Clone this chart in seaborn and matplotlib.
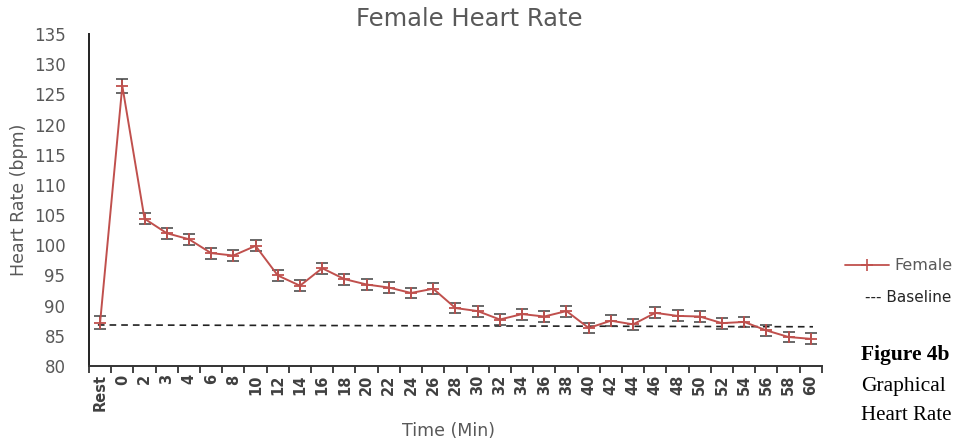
import numpy as np
import pandas as pd
import matplotlib
matplotlib.use("Agg")
import matplotlib.pyplot as plt
import seaborn as sns
from matplotlib.lines import Line2D

# ---- data ----
time_labels = ["Rest", "0", "2", "3", "4", "6", "8", "10", "12", "14", "16", "18",
               "20", "22", "24", "26", "28", "30", "32", "34", "36", "38", "40",
               "42", "44", "46", "48", "50", "52", "54", "56", "58", "60"]
heart_rate = [87.2, 126.4, 104.4, 102.0, 101.0, 98.7, 98.3, 99.9, 95.0, 93.3, 96.2,
              94.4, 93.5, 93.0, 92.1, 92.8, 89.6, 89.1, 87.7, 88.6, 88.2, 89.1,
              86.3, 87.5, 86.9, 88.8, 88.3, 88.2, 87.1, 87.3, 85.9, 84.8, 84.5]
heart_rate_err = [1.1, 1.1, 0.9, 0.9, 0.9, 0.9, 0.9, 0.9, 0.9, 0.9, 0.9,
                  0.9, 0.9, 0.9, 0.9, 0.9, 0.9, 0.9, 0.9, 0.9, 0.9, 0.9,
                  0.9, 0.9, 0.9, 0.9, 0.9, 0.9, 0.9, 0.9, 0.9, 0.9, 0.9]
baseline_ends = [86.8, 86.5]
y_ticks = [80, 85, 90, 95, 100, 105, 110, 115, 120, 125, 130, 135]

sns.set_theme(style="white")
plt.rcParams['font.family'] = ['DejaVu Sans']

df = pd.DataFrame({"pos": np.arange(len(time_labels)), "hr": heart_rate, "err": heart_rate_err})

fig = plt.figure(figsize=(9.58, 4.43), dpi=100)
ax = fig.add_axes([0.0929, 0.1738, 0.765, 0.7495])

red = "#C0504D"
gray = "#595959"
ax.plot([df.pos.iloc[0] - 0.1, df.pos.iloc[-1] + 0.1], baseline_ends,
        linestyle=(0, (4, 3)), color="#222222", lw=1.2, zorder=1)
ax.errorbar(df.pos, df.hr, yerr=df.err, fmt="none", ecolor="#404040",
            elinewidth=1.1, capsize=4, capthick=1.1, zorder=2)
sns.lineplot(data=df, x="pos", y="hr", ax=ax, color=red, lw=1.4,
             marker="+", markersize=9, markeredgewidth=1.3,
             markeredgecolor=red, zorder=3)

ax.set_xlim(-0.5, len(time_labels) - 0.5)
ax.set_ylim(80, 135)
ax.set_yticks(y_ticks)
ax.set_yticklabels([str(v) for v in y_ticks], color=gray, fontsize=12)
ax.tick_params(axis="y", length=0, pad=17)

ax.set_xticks(df.pos)
ax.set_xticklabels(time_labels, rotation=90, fontweight="bold", fontsize=10.5,
                   color="#404040")
ax.set_xticks(np.arange(-0.5, len(time_labels), 1.0), minor=True)
ax.tick_params(axis="x", which="major", length=0, pad=6)
ax.tick_params(axis="x", which="minor", length=5, width=1.2, color="#222222",
               direction="out", bottom=True)

for s in ["top", "right"]:
    ax.spines[s].set_visible(False)
ax.spines["left"].set_color("#222222")
ax.spines["left"].set_linewidth(1.4)
ax.spines["bottom"].set_color("#333333")
ax.spines["bottom"].set_linewidth(1.4)

ax.set_xlabel("Time (Min)", color=gray, fontsize=12.5, va="center")
ax.set_ylabel("Heart Rate (bpm)", color=gray, fontsize=12.5, va="center")
ax.xaxis.set_label_coords(0.49, -0.195)
ax.yaxis.set_label_coords(-0.096, 0.5)

fig.text(0.49, 0.958, "Female Heart Rate", ha="center", va="center",
         fontsize=17.5, color=gray)

leg_line = Line2D([0.882, 0.928], [0.401, 0.401], transform=fig.transFigure,
                  color=red, lw=1.3)
leg_mark = Line2D([0.905], [0.401], transform=fig.transFigure, color=red,
                  marker="+", markersize=8, markeredgewidth=1.2)
fig.add_artist(leg_line)
fig.add_artist(leg_mark)
fig.text(0.934, 0.401, "Female", ha="left", va="center", fontsize=11.5,
         color=gray)
fig.text(0.903, 0.328, "--- Baseline", ha="left", va="center", fontsize=11,
         color="#262626")

serif = ["Liberation Serif", "DejaVu Serif"]
fig.text(0.899, 0.198, "Figure 4b", ha="left", va="center", fontsize=15.5,
         fontweight="bold", family=serif, color="black")
fig.text(0.899, 0.128, "Graphical", ha="left", va="center", fontsize=15.5,
         family=serif, color="black")
fig.text(0.899, 0.062, "Heart Rate", ha="left", va="center", fontsize=15,
         family=serif, color="black")

fig.savefig("out.png", dpi=100)
